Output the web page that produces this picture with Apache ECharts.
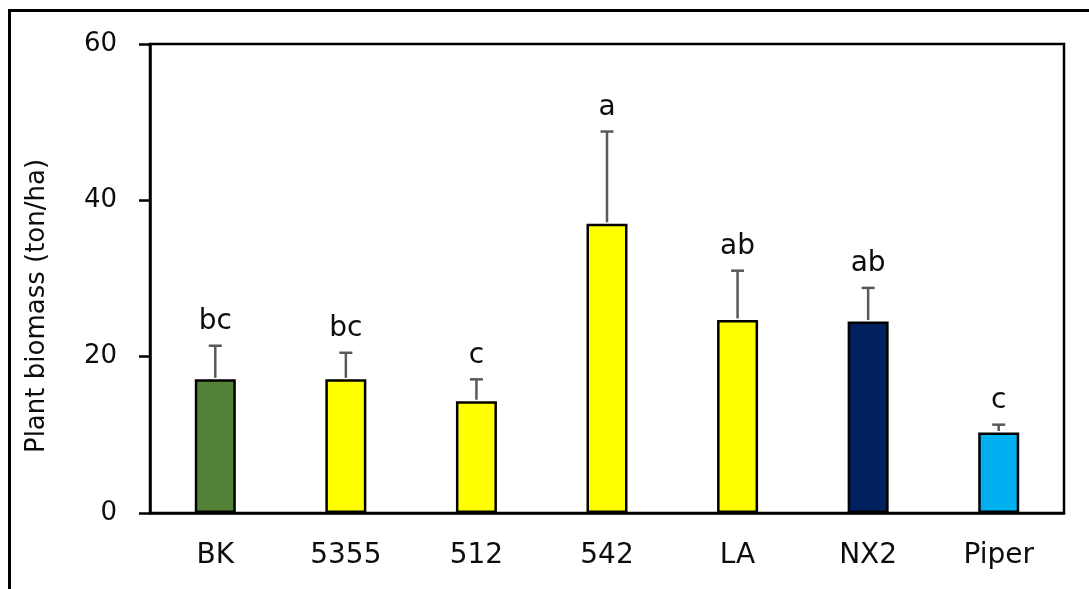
<!DOCTYPE html>
<html>
<head>
<meta charset="utf-8">
<script src="https://cdn.jsdelivr.net/npm/echarts@6/dist/echarts.min.js"></script>
<style>
  html, body { margin: 0; padding: 0; background: #fff; }
  #chart { width: 1089px; height: 589px; }
</style>
</head>
<body>
<div id="chart"></div>
<script>
// Cultivars and their mean plant biomass (ton/ha) with standard deviation
const cultivars = ['BK', '5355', '512', '542', 'LA', 'NX2', 'Piper'];
const biomass = [17.1, 17.1, 14.3, 37.0, 24.7, 24.5, 10.3];
const stdDev = [4.3, 3.4, 2.8, 11.8, 6.3, 4.3, 1.0];
const groups = ['bc', 'bc', 'c', 'a', 'ab', 'ab', 'c'];
const barColors = ['#538135', '#FFFF00', '#FFFF00', '#FFFF00', '#FFFF00', '#002060', '#00B0F0'];
const yTicks = [0, 20, 40, 60];

const FONT = 'DejaVu Sans';
const INK = '#0d0d0d';

const chart = echarts.init(document.getElementById('chart'), null, { renderer: 'canvas' });

const option = {
  animation: false,
  backgroundColor: '#fff',
  grid: {
    left: 150, right: 25, top: 44, bottom: 76,
    show: true, borderColor: '#000', borderWidth: 2.5, backgroundColor: 'transparent'
  },
  xAxis: {
    type: 'category',
    data: cultivars,
    axisLine: { lineStyle: { color: '#000', width: 2.5 } },
    axisTick: { show: false },
    axisLabel: { color: INK, fontFamily: FONT, fontSize: 28, margin: 29 }
  },
  yAxis: {
    type: 'value',
    min: yTicks[0],
    max: yTicks[yTicks.length - 1],
    interval: yTicks[1] - yTicks[0],
    splitLine: { show: false },
    axisLine: { show: true, lineStyle: { color: '#000', width: 2.5 } },
    axisTick: { show: true, inside: false, length: 11, lineStyle: { color: '#000', width: 2.5 } },
    axisLabel: { color: INK, fontFamily: FONT, fontSize: 26, margin: 33 }
  },
  graphic: [
    {
      type: 'rect',
      shape: { x: 9.5, y: 10.5, width: 3000, height: 3000 },
      style: { fill: 'none', stroke: '#000', lineWidth: 3 },
      silent: true
    },
    {
      type: 'text',
      x: 37, y: 306,
      rotation: Math.PI / 2,
      style: {
        text: 'Plant biomass (ton/ha)',
        fontFamily: FONT, fontSize: 26, fill: INK,
        textAlign: 'center', textVerticalAlign: 'middle'
      },
      silent: true
    }
  ],
  series: [
    {
      type: 'bar',
      barWidth: 41,
      data: biomass.map((v, i) => ({
        value: v,
        itemStyle: { color: barColors[i], borderColor: '#000', borderWidth: 2.5 }
      })),
      z: 2
    },
    {
      // error bars (upper whisker) with significance letters above
      type: 'custom',
      data: biomass.map((v, i) => [i, v, v + stdDev[i]]),
      z: 3,
      renderItem: function (params, api) {
        const idx = api.value(0);
        const base = api.coord([idx, api.value(1)]);
        const top = api.coord([idx, api.value(2)]);
        const half = 6.5;
        const stroke = { stroke: '#595959', lineWidth: 2.5 };
        return {
          type: 'group',
          children: [
            { type: 'line', shape: { x1: top[0], y1: base[1] - 1.5, x2: top[0], y2: top[1] }, style: stroke },
            { type: 'line', shape: { x1: top[0] - half, y1: top[1], x2: top[0] + half, y2: top[1] }, style: stroke },
            {
              type: 'text',
              x: top[0], y: top[1] - 10,
              style: {
                text: groups[params.dataIndex],
                fontFamily: FONT, fontSize: 28, fill: INK,
                textAlign: 'center', textVerticalAlign: 'bottom'
              }
            }
          ]
        };
      }
    }
  ]
};

chart.setOption(option);
</script>
</body>
</html>
